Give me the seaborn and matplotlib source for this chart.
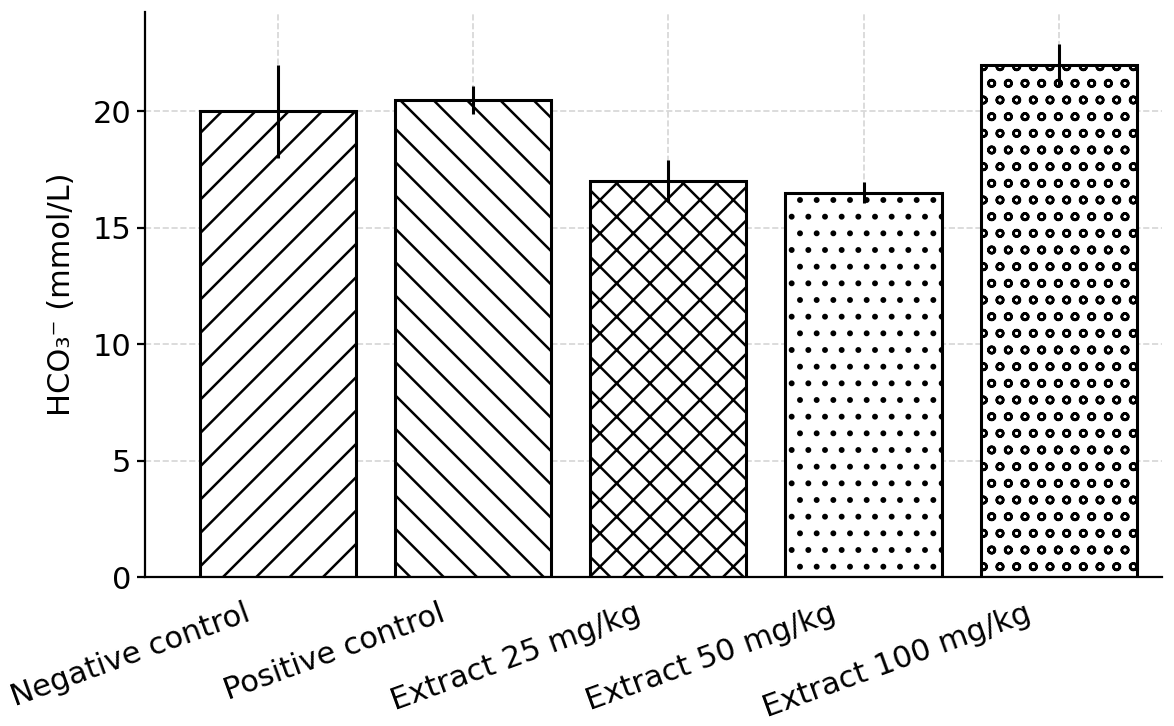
import numpy as np
import pandas as pd
import matplotlib
matplotlib.use('Agg')
import matplotlib.pyplot as plt
import matplotlib.transforms as mtransforms
import seaborn as sns

groups = ['Negative control', 'Positive control', 'Extract 25 mg/kg',
          'Extract 50 mg/kg', 'Extract 100 mg/kg']
hco3 = [20.0, 20.5, 17.0, 16.5, 22.0]
hco3_sd = [2.0, 0.6, 0.9, 0.45, 0.9]
hatches = ['//', '\\\\', 'xx', '..', 'oo']

df = pd.DataFrame({'Group': groups, 'HCO3': hco3})

sns.set_style('whitegrid', {'grid.linestyle': '--', 'grid.color': '#d6d6d6',
                            'axes.edgecolor': 'black', 'text.color': 'black',
                            'axes.labelcolor': 'black', 'xtick.color': 'black',
                            'ytick.color': 'black'})
plt.rcParams['font.family'] = ['DejaVu Sans']
plt.rcParams['hatch.linewidth'] = 0.9
plt.rcParams['hatch.color'] = 'black'

fig, ax = plt.subplots(figsize=(5.87, 3.63), dpi=200)
fig.subplots_adjust(left=0.1235, right=0.99, bottom=0.2052, top=0.983)

sns.barplot(data=df, x='Group', y='HCO3', color='white', edgecolor='black',
            linewidth=1.1, width=0.8, errorbar=None, ax=ax)
for bar, h in zip(ax.patches, hatches):
    bar.set_hatch(h)

# error bars (SD), no caps
ax.errorbar(x=np.arange(len(groups)), y=hco3, yerr=hco3_sd, fmt='none',
            ecolor='black', elinewidth=1.1, capsize=0, zorder=5)

ax.xaxis.grid(True)
ax.yaxis.grid(True)
for gl in ax.get_xgridlines() + ax.get_ygridlines():
    gl.set_linewidth(0.6)

ax.set_xlim(-0.68, 4.53)
ax.set_ylim(0, 24.25)
ax.set_yticks([0, 5, 10, 15, 20])
ax.set_xticks(range(len(groups)))
ax.set_xticklabels(groups, rotation=20, ha='right', fontsize=11)
ax.tick_params(axis='y', labelsize=11, length=3, width=0.8, color='black',
               labelcolor='black', left=True, pad=2)
ax.tick_params(axis='x', length=0, pad=5, labelcolor='black')

# nudge the rotated labels a bit left/down
shift = mtransforms.ScaledTranslation(-24 / 200, -8 / 200, fig.dpi_scale_trans)
for lab in ax.get_xticklabels():
    lab.set_transform(lab.get_transform() + shift)

ax.set_xlabel('')
ax.set_ylabel('HCO₃⁻ (mmol/L)', fontsize=11, labelpad=6, color='black')

sns.despine(ax=ax)
for s in ['left', 'bottom']:
    ax.spines[s].set_linewidth(0.8)
    ax.spines[s].set_color('black')

fig.savefig('out.png', dpi=200)
